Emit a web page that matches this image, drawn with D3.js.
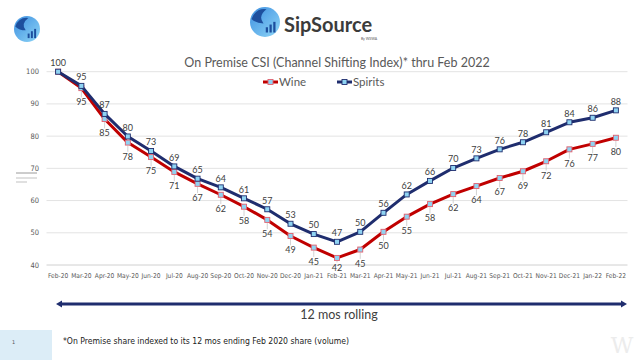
<!DOCTYPE html>
<html><head><meta charset="utf-8">
<script src="https://cdn.jsdelivr.net/npm/d3@7"></script>
<style>
html,body{margin:0;padding:0;background:#fff;}
svg{display:block;}
</style></head>
<body>
<svg id="chart" width="640" height="360"></svg>
<script>
const months = ["Feb-20","Mar-20","Apr-20","May-20","Jun-20","Jul-20","Aug-20","Sep-20","Oct-20","Nov-20","Dec-20","Jan-21","Feb-21","Mar-21","Apr-21","May-21","Jun-21","Jul-21","Aug-21","Sep-21","Oct-21","Nov-21","Dec-21","Jan-22","Feb-22"];
const spiritsValues = [100,95.6,86.9,79.9,75.4,70.6,66.8,64.1,60.7,57.3,52.8,49.6,47.2,50.3,56.2,61.9,66.1,70.1,73.1,75.9,78.1,81.2,84.3,85.7,88.0];
const wineValues = [100,94.9,85.3,78.0,73.5,68.9,65.2,61.8,58.1,54.0,49.0,45.4,42.2,44.8,50.3,55.0,58.9,62.0,64.5,67.0,69.1,72.2,75.9,77.6,79.5];
const spiritsLabels = ["100","95","87","80","73","69","65","64","61","57","53","50","47","50","56","62","66","70","73","76","78","81","84","86","88"];
const wineLabels = ["","95","85","78","75","71","67","62","58","54","49","45","42","45","50","55","58","62","64","67","69","72","76","77","80"];
const yTicks = [40,50,60,70,80,90,100];
const seriesNames = ["Wine","Spirits"];

const svg = d3.select("#chart");
const x = d3.scaleBand().domain(months).range([46.5, 627.5]);
const cx = m => x(m) + x.bandwidth()/2;
const y = d3.scaleLinear().domain([40,100]).range([265, 71.7]);

const WINE = "#c00000", SPIRITS = "#1f2d6e", MARK = "#8fd3f2";

// logos
const defs = svg.append("defs");
const lg = defs.append("linearGradient").attr("id","lg").attr("x1","0").attr("y1","0").attr("x2","1").attr("y2","1");
lg.append("stop").attr("offset","0").attr("stop-color","#3d8fe0");
lg.append("stop").attr("offset","1").attr("stop-color","#8fd6f7");
function logo(g, r){
  g.append("circle").attr("r", r).attr("fill","url(#lg)");
  g.append("path").attr("d", `M${-r*0.9},${-r*0.2} Q${-r*0.6},${-r*0.95} ${r*0.1},${-r*0.85} Q${-r*0.5},${-r*0.4} ${-r*0.1},${r*0.1} Q${-r*0.6},${r*0.1} ${-r*0.9},${-r*0.2}Z`).attr("fill","#1d4f9e");
  [0,1,2].forEach(i=>{
    g.append("rect").attr("x", r*0.05 + i*r*0.25).attr("y", r*(0.35 - i*0.18)).attr("width", r*0.15).attr("height", r*(0.35 + i*0.18)).attr("fill","#1d4f9e");
  });
}
logo(svg.append("g").attr("transform","translate(27,29)"), 13);
logo(svg.append("g").attr("transform","translate(265,22)"), 15);
svg.append("text").attr("x",284).attr("y",32).attr("font-family","Lato, sans-serif").attr("font-weight","bold").attr("font-size",20).attr("fill","#3b3b3b").text("SipSource");
svg.append("text").attr("x",377).attr("y",40).attr("text-anchor","end").attr("font-family","Lato, sans-serif").attr("font-size",3.5).attr("fill","#555").text("By WSWA");

// title
svg.append("text").attr("x",337).attr("y",67).attr("text-anchor","middle").attr("font-family","Lato, sans-serif").attr("font-size",12.5).attr("fill","#595959").text("On Premise CSI  (Channel Shifting Index)* thru Feb 2022");

// gridlines
svg.append("g").selectAll("line").data(yTicks).join("line")
  .attr("x1",46.5).attr("x2",627.5).attr("y1",d=>y(d)).attr("y2",d=>y(d))
  .attr("stroke",d=>d===40?"#d0d0d0":"#e3e3e3").attr("stroke-width",1);

// y axis labels
svg.append("g").selectAll("text").data(yTicks).join("text")
  .attr("x",39).attr("y",d=>y(d)+2.5).attr("text-anchor","end")
  .attr("font-family","'DejaVu Sans Condensed', 'DejaVu Sans', sans-serif").attr("font-size",7.5).attr("fill","#595959").text(d=>d);

// x axis labels
svg.append("g").selectAll("text").data(months).join("text")
  .attr("x",d=>cx(d)).attr("y",278).attr("text-anchor","middle")
  .attr("font-family","'DejaVu Sans Condensed', 'DejaVu Sans', sans-serif").attr("font-size",6.6).attr("fill","#595959").text(d=>d);

// decorative side lines
svg.append("line").attr("x1",16).attr("x2",37).attr("y1",173).attr("y2",173).attr("stroke","#9a9a9a").attr("stroke-width",1);
svg.append("line").attr("x1",16).attr("x2",37).attr("y1",178).attr("y2",178).attr("stroke","#d6d6d6").attr("stroke-width",1.5);
svg.append("line").attr("x1",16).attr("x2",27).attr("y1",182).attr("y2",182).attr("stroke","#d6d6d6").attr("stroke-width",1.5);

const line = d3.line().x((d,i)=>cx(months[i])).y(d=>y(d));

const wineLabelY = v => Math.min(y(v)+17.3, 270.5);

// wine leader lines
const wineItems = wineValues.map((v,i)=>({v, m:months[i], label:wineLabels[i]})).filter(d=>d.label!=="");
svg.append("g").selectAll("line").data(wineItems).join("line")
  .attr("x1",d=>cx(d.m)).attr("x2",d=>cx(d.m))
  .attr("y1",d=>y(d.v)+3).attr("y2",d=>wineLabelY(d.v)-8)
  .attr("stroke","#c8c8c8").attr("stroke-width",0.8);

// series
function drawSeries(vals, color, markStroke){
  svg.append("path").datum(vals).attr("d",line).attr("fill","none").attr("stroke",color).attr("stroke-width",3).attr("stroke-linejoin","round");
  svg.append("g").selectAll("rect").data(vals).join("rect")
    .attr("x",(d,i)=>cx(months[i])-2.5).attr("y",d=>y(d)-2.5).attr("width",5).attr("height",5)
    .attr("fill",MARK).attr("stroke",markStroke).attr("stroke-width",0.9);
}
drawSeries(wineValues, WINE, "#e0606e");
drawSeries(spiritsValues, SPIRITS, SPIRITS);

// data labels
const lblFont = "Lato, sans-serif";
svg.append("g").selectAll("text").data(spiritsValues).join("text")
  .attr("x",(d,i)=>cx(months[i])).attr("y",d=>y(d)-5.7).attr("text-anchor","middle")
  .attr("font-family",lblFont).attr("font-size",9).attr("fill","#404040").text((d,i)=>spiritsLabels[i]);
svg.append("g").selectAll("text").data(wineItems).join("text")
  .attr("x",d=>cx(d.m)).attr("y",d=>wineLabelY(d.v)).attr("text-anchor","middle")
  .attr("font-family",lblFont).attr("font-size",9).attr("fill","#404040").text(d=>d.label);

// legend
const legend = [{name:seriesNames[0], color:WINE, ms:"#e0606e", x:263},{name:seriesNames[1], color:SPIRITS, ms:SPIRITS, x:337}];
const lgG = svg.append("g");
legend.forEach(l=>{
  lgG.append("line").attr("x1",l.x).attr("x2",l.x+15).attr("y1",82).attr("y2",82).attr("stroke",l.color).attr("stroke-width",3);
  lgG.append("rect").attr("x",l.x+5).attr("y",79.5).attr("width",5).attr("height",5).attr("fill",MARK).attr("stroke",l.ms).attr("stroke-width",0.9);
  lgG.append("text").attr("x",l.x+16).attr("y",86).attr("font-family","Lato, sans-serif").attr("font-size",11.5).attr("fill","#595959").text(l.name);
});

// arrow
const ar = svg.append("g");
ar.append("line").attr("x1",60).attr("x2",622).attr("y1",304).attr("y2",304).attr("stroke",SPIRITS).attr("stroke-width",3);
ar.append("path").attr("d","M56,304 L62,300.5 L62,307.5 Z").attr("fill",SPIRITS);
ar.append("path").attr("d","M627,304 L621,300.5 L621,307.5 Z").attr("fill",SPIRITS);
svg.append("text").attr("x",339).attr("y",318.5).attr("text-anchor","middle").attr("font-family","Lato, sans-serif").attr("font-size",12.5).attr("fill","#404040").text("12 mos rolling");

// footer
svg.append("rect").attr("x",0).attr("y",330).attr("width",52).attr("height",30).attr("fill","#dcedf7");
svg.append("text").attr("x",12).attr("y",344).attr("font-family","'DejaVu Sans', sans-serif").attr("font-size",5).attr("fill","#555").text("1");
svg.append("text").attr("x",63).attr("y",344).attr("font-family","'DejaVu Sans Condensed', 'DejaVu Sans', sans-serif").attr("font-size",8.6).attr("fill","#222").text("*On Premise share indexed to its 12 mos ending Feb 2020 share (volume)");
svg.append("text").attr("x",622).attr("y",353).attr("text-anchor","middle").attr("font-family","'DejaVu Serif', serif").attr("font-size",22).attr("fill","#ececec").text("W");
</script>
</body></html>
